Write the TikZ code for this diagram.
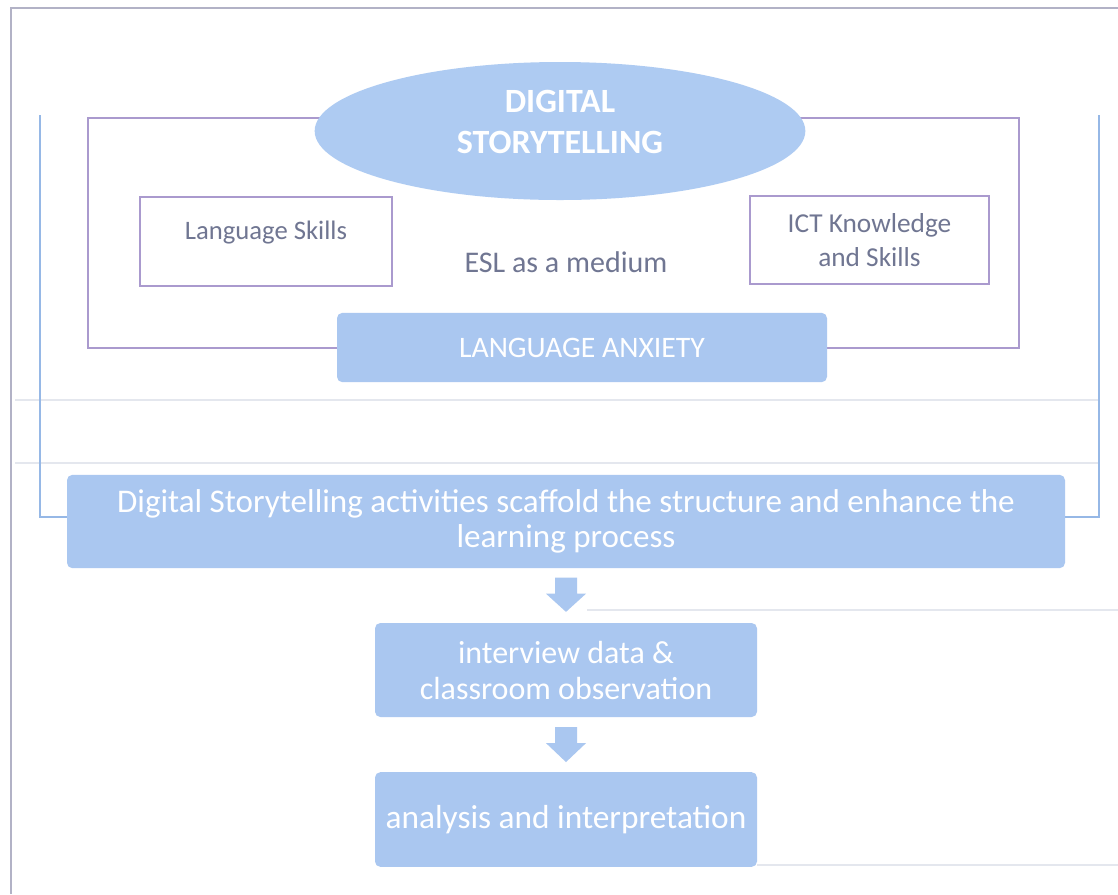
\documentclass[tikz,border=0pt]{standalone}
\usepackage{fontspec}
\setmainfont{Carlito}
\usetikzlibrary{calc,shapes.geometric}
\definecolor{boxblue}{RGB}{170,199,240}
\definecolor{ellblue}{RGB}{174,203,242}
\definecolor{bracketblue}{RGB}{150,184,230}
\definecolor{purp}{RGB}{170,154,206}
\definecolor{txtgray}{RGB}{112,118,146}
\definecolor{framegray}{RGB}{178,178,198}
\definecolor{faintline}{RGB}{228,231,238}
\begin{document}
\begin{tikzpicture}[x=0.75pt,y=-0.75pt,
  bluebox/.style={fill=boxblue, draw=none, rounded corners=4pt, text=white, align=center, inner sep=0pt},
  purpbox/.style={draw=purp, line width=1.5pt, inner sep=0pt},
  graytext/.style={text=txtgray, align=center, inner sep=0pt},
  blockarrow/.style={fill=boxblue, draw=none}]
\useasboundingbox (0,0) rectangle (1118,894);
\fill[white] (0,0) rectangle (1118,894);
% faint page lines
\draw[framegray, line width=0.9pt] (11,894) -- (11,8) -- (1118,8);
\draw[faintline, line width=1pt] (15,400) -- (1098,400);
\draw[faintline, line width=1pt] (15,463) -- (1098,463);
\draw[faintline, line width=1pt] (587,610) -- (1118,610);
\draw[faintline, line width=1pt] (757,865) -- (1118,865);
% blue bracket
\coordinate (bl) at (40,115);
\coordinate (br) at (1099,115);
\draw[bracketblue, line width=1.6pt] (bl) -- (bl |- 0,517) -- (br |- 0,517) -- (br);
% purple frame
\node[purpbox, minimum width=698pt, minimum height=172.5pt] (frame) at (553.5,233) {};
% ellipse
\node[ellipse, fill=ellblue, draw=none, minimum width=368pt, minimum height=103.5pt, inner sep=0pt] (ds) at (560,131) {};
\node[text=white, align=center, inner sep=0pt, font=\fontsize{25.5pt}{31pt}\selectfont\bfseries] (dstext) at ($(ds.center)+(0,-9)$) {DIGITAL\\STORYTELLING};
% side boxes
\node[purpbox, fill=white, minimum width=189pt, minimum height=67pt] (ls) at (266,241.5) {};
\node[graytext, font=\fontsize{20pt}{24pt}\selectfont] (lstext) at ($(ls.center)+(0,-9)$) {Language Skills};
\node[purpbox, fill=white, minimum width=179pt, minimum height=66pt, graytext, font=\fontsize{20.5pt}{26pt}\selectfont] (ict) at (869.5,240) {ICT Knowledge\\and Skills};
\node[graytext, font=\fontsize{22.5pt}{26pt}\selectfont] (esl) at (566,262) {ESL as a medium};
% language anxiety
\node[bluebox, minimum width=367.5pt, minimum height=52pt, font=\fontsize{22.3pt}{26pt}\selectfont] (la) at (582,347.5) {LANGUAGE ANXIETY};
% big box
\node[bluebox, minimum width=748.5pt, minimum height=70pt, font=\fontsize{24.8pt}{26pt}\selectfont] (big) at (566,521.5)
  {Digital Storytelling activities scaffold the structure and enhance the\\learning process};
% lower boxes
\node[bluebox, minimum width=286.5pt, minimum height=70.5pt, font=\fontsize{24pt}{27pt}\selectfont] (iv) at (566,670)
  {interview data \&\\classroom observation};
\node[bluebox, minimum width=286.5pt, minimum height=71pt, font=\fontsize{25pt}{26pt}\selectfont] (an) at (566,819.5)
  {analysis and interpretation};
% block arrows
\coordinate (a1) at ($(big.south)!0.17!(iv.north)$);
\coordinate (a1t) at ($(big.south)!0.8!(iv.north)$);
\fill[blockarrow] ($(a1)+(-11,0)$) -- ($(a1)+(11,0)$) -- ($(a1)+(11,16)$) -- ($(a1)+(20,16)$) -- ($(a1t)$) -- ($(a1)+(-20,16)$) -- ($(a1)+(-11,16)$) -- cycle;
\coordinate (a2) at ($(iv.south)!0.18!(an.north)$);
\coordinate (a2t) at ($(iv.south)!0.82!(an.north)$);
\fill[blockarrow] ($(a2)+(-11,0)$) -- ($(a2)+(11,0)$) -- ($(a2)+(11,16)$) -- ($(a2)+(20,16)$) -- ($(a2t)$) -- ($(a2)+(-20,16)$) -- ($(a2)+(-11,16)$) -- cycle;
\end{tikzpicture}
\end{document}
